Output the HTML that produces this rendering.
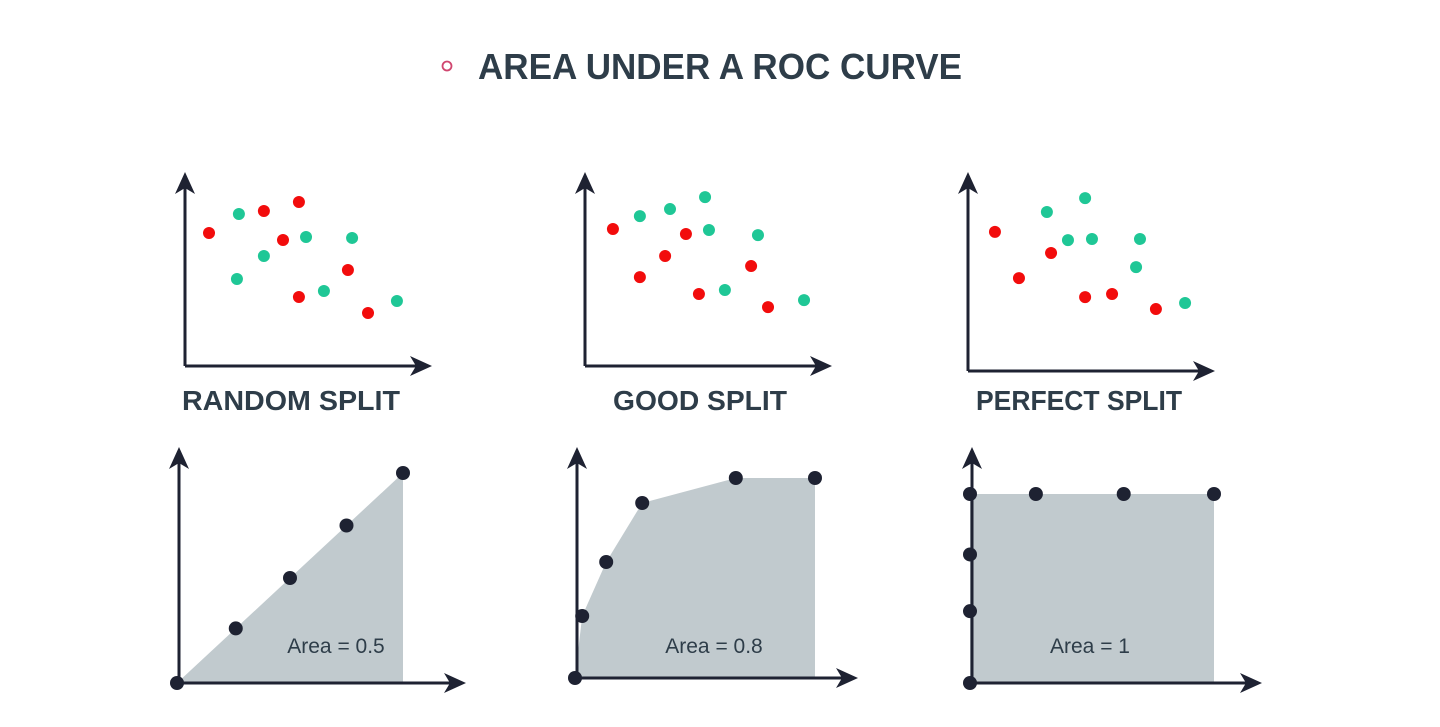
<!DOCTYPE html>
<html><head><meta charset="utf-8">
<style>
html,body{margin:0;padding:0;background:#fff;}
svg{display:block;font-family:"Liberation Sans",sans-serif;}
</style></head>
<body>
<svg id="chart" width="1440" height="727" viewBox="0 0 1440 727">
<circle cx="447" cy="66" r="4.5" fill="none" stroke="#d0466f" stroke-width="1.8"/>
<text x="478" y="79" font-size="36" font-weight="bold" fill="#2e3d49" textLength="484" lengthAdjust="spacingAndGlyphs">AREA UNDER A ROC CURVE</text>
<g id="layer"></g>
</svg>
<script>
// Scatter data (units 0..10)
const s1RedX=[0.98,3.22,4.65,4.0,6.65,4.65,7.47];
const s1RedY=[7.0,8.16,8.63,6.63,5.05,3.63,2.79];
const s1GreenX=[2.2,4.94,6.82,3.22,2.12,5.67,8.65];
const s1GreenY=[8.0,6.79,6.74,5.79,4.58,3.95,3.42];
const s2RedX=[1.14,4.12,3.27,2.24,6.78,4.65,7.47];
const s2RedY=[7.21,6.95,5.79,4.68,5.26,3.79,3.1];
const s2GreenX=[2.24,3.47,4.9,5.06,7.06,5.71,8.94];
const s2GreenY=[7.89,8.26,8.89,7.16,6.89,4.0,3.47];
const s3RedX=[1.1,3.39,2.08,4.78,5.88,7.67];
const s3RedY=[7.32,6.21,4.89,3.89,4.05,3.26];
const s3GreenX=[3.22,4.78,4.08,5.06,7.02,6.86,8.86];
const s3GreenY=[8.37,9.1,6.89,6.95,6.95,5.47,3.58];
// ROC data (0..1)
const r1FPR=[0,0.26,0.5,0.75,1];
const r1TPR=[0,0.26,0.5,0.75,1];
const r2FPR=[0,0.03,0.13,0.28,0.67,1];
const r2TPR=[0,0.31,0.58,0.875,1,1];
const r3FPR=[0,0,0,0,0.27,0.63,1];
const r3TPR=[0,0.38,0.68,1,1,1,1];
const splitLabels=["RANDOM SPLIT","GOOD SPLIT","PERFECT SPLIT"];
const areaLabels=["Area = 0.5","Area = 0.8","Area = 1"];

const NS="http://www.w3.org/2000/svg";
const layer=document.getElementById('layer');
const AX="#1e2232";
function mk(tag,attrs,parent){const e=document.createElementNS(NS,tag);for(const k in attrs)e.setAttribute(k,attrs[k]);(parent||layer).appendChild(e);return e;}

function axes(ox,oy,top,right,g){
  let l=mk('line',{x1:ox,y1:oy,x2:ox,y2:top+10,stroke:AX,'stroke-width':3},g);
  
  
  l=mk('line',{x1:ox,y1:oy,x2:right-10,y2:oy,stroke:AX,'stroke-width':3},g);
  
  
  let p=mk('path',{d:`M${ox} ${top} L${ox+10} ${top+22} L${ox} ${top+16} L${ox-10} ${top+22} Z`,fill:AX},g);
  
  
  p=mk('path',{d:`M${right} ${oy} L${right-22} ${oy-10} L${right-16} ${oy} L${right-22} ${oy+10} Z`,fill:AX},g);
  
  
}

function scatter(idx,ox,oy,right,rx,ry,gx,gy,cx,tw){
  const g=mk('g',{});
  
  
  axes(ox,oy,172,right,g);
  const sx=v=>ox+v*24.5, sy=v=>oy-v*19;
  rx.forEach((v,i)=>{const c=mk('circle',{cx:sx(v),cy:sy(ry[i]),r:6,fill:'#f20c0c'},g);
    
    });
  gx.forEach((v,i)=>{const c=mk('circle',{cx:sx(v),cy:sy(gy[i]),r:6,fill:'#1fc796'},g);
    
    });
  const t=mk('text',{x:cx,y:410,'font-size':28,'font-weight':'bold',fill:'#2e3d49','text-anchor':'middle',textLength:tw,lengthAdjust:'spacingAndGlyphs'},g);
  t.textContent=splitLabels[idx];
  
  
}

function roc(idx,ox,oy,right,w,h,fx,ty,lx){
  const g=mk('g',{});
  
  
  const sx=v=>ox+v*w, sy=v=>oy-v*h;
  let d=`M${sx(fx[0])} ${sy(ty[0])}`;
  fx.forEach((v,i)=>{d+=` L${sx(v)} ${sy(ty[i])}`;});
  d+=` L${sx(fx[fx.length-1])} ${oy} Z`;
  const a=mk('path',{d:d,fill:'#c1cace'},g);
  
  
  axes(ox+2,oy,447,right,g);
  fx.forEach((v,i)=>{const c=mk('circle',{cx:sx(v),cy:sy(ty[i]),r:7,fill:AX},g);
    
    });
  const t=mk('text',{x:lx,y:653,'font-size':21,fill:'#2e3d49','text-anchor':'middle'},g);
  t.textContent=areaLabels[idx];
  
  
}

scatter(0,185,366,432,s1RedX,s1RedY,s1GreenX,s1GreenY,291,218);
scatter(1,585,366,832,s2RedX,s2RedY,s2GreenX,s2GreenY,700,174);
scatter(2,968,371,1215,s3RedX,s3RedY,s3GreenX,s3GreenY,1079,206);
roc(0,177,683,466,226,210,r1FPR,r1TPR,336);
roc(1,575,678,858,240,200,r2FPR,r2TPR,714);
roc(2,970,683,1262,244,189,r3FPR,r3TPR,1090);
</script>
</body></html>
